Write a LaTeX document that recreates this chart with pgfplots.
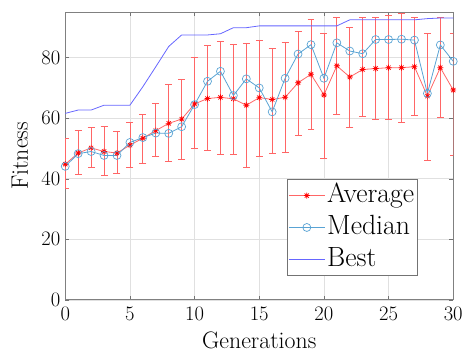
\documentclass[border=0pt]{standalone}
\usepackage{pgfplots}
\pgfplotsset{compat=1.18}
\usepackage{pgfplotstable}

\definecolor{avgred}{rgb}{1,0,0}
\definecolor{medblue}{rgb}{0,0.447,0.741}
\definecolor{bestblue}{rgb}{0,0,1}

% eight-spoke asterisk
\pgfdeclareplotmark{mstar}{%
  \pgfpathmoveto{\pgfqpoint{0pt}{\pgfplotmarksize}}%
  \pgfpathlineto{\pgfqpoint{0pt}{-\pgfplotmarksize}}%
  \pgfpathmoveto{\pgfqpoint{\pgfplotmarksize}{0pt}}%
  \pgfpathlineto{\pgfqpoint{-\pgfplotmarksize}{0pt}}%
  \pgfpathmoveto{\pgfqpoint{0.707\pgfplotmarksize}{0.707\pgfplotmarksize}}%
  \pgfpathlineto{\pgfqpoint{-0.707\pgfplotmarksize}{-0.707\pgfplotmarksize}}%
  \pgfpathmoveto{\pgfqpoint{-0.707\pgfplotmarksize}{0.707\pgfplotmarksize}}%
  \pgfpathlineto{\pgfqpoint{0.707\pgfplotmarksize}{-0.707\pgfplotmarksize}}%
  \pgfusepathqstroke
}

% generation, mean fitness, upper and lower spread
\pgfplotstableread{
x y ep em
0 44.8 8.6 8.1
1 48.5 7.4 7.1
2 50.2 6.8 6.6
3 49.0 8.4 7.9
4 48.5 7.2 6.8
5 51.1 7.5 7.5
6 53.4 7.9 8.4
7 55.9 9.0 8.6
8 58.3 12.8 12.5
9 59.7 13.1 13.4
10 64.7 15.3 14.8
11 66.5 17.5 17.0
12 66.9 18.6 18.7
13 66.4 17.9 18.2
14 64.3 20.5 20.7
15 66.8 19.0 19.3
16 66.2 17.0 17.8
17 66.9 18.3 18.1
18 71.7 17.1 17.4
19 74.5 18.2 18.3
20 67.7 20.2 21.0
21 77.3 16.1 16.0
22 73.6 16.5 16.7
23 76.1 17.3 15.6
24 76.4 17.0 16.7
25 76.7 17.2 17.0
26 76.7 18.0 18.0
27 77.0 16.4 16.1
28 67.3 20.6 21.4
29 76.7 16.7 16.4
30 69.3 18.6 21.6
}\avgtable

% generation, median fitness
\pgfplotstableread{
x y
0 44.1
1 48.3
2 49.0
3 47.7
4 47.7
5 52.0
6 53.6
7 55.1
8 55.0
9 57.2
10 64.5
11 72.2
12 75.5
13 67.5
14 73.0
15 70.0
16 62.1
17 73.2
18 81.2
19 84.3
20 73.2
21 84.9
22 82.2
23 81.3
24 86.0
25 86.0
26 86.1
27 85.8
28 68.2
29 84.2
30 78.8
}\medtable

% generation, best fitness
\pgfplotstableread{
x y
0 61.6
1 62.7
2 62.7
3 64.3
4 64.3
5 64.3
6 70.4
7 77.0
8 83.7
9 87.5
10 87.5
11 87.5
12 87.9
13 89.9
14 89.9
15 90.5
16 90.5
17 90.5
18 90.5
19 90.5
20 90.5
21 90.5
22 92.5
23 92.5
24 92.5
25 92.5
26 92.5
27 92.5
28 92.9
29 93.1
30 93.1
}\besttable

\begin{document}
\begin{tikzpicture}
\begin{axis}[
  scale only axis,
  width=389.5bp, height=288.7bp,
  xmin=0, xmax=30, ymin=0, ymax=95,
  xtick={0,5,...,30}, ytick={0,20,...,80},
  tick align=inside,
  major tick length=4bp,
  tick style={black!55, line width=0.5bp},
  axis line style={black!50, line width=0.8bp},
  grid=major,
  grid style={black!12, line width=0.6bp},
  ticklabel style={font=\fontsize{19.5}{22}\selectfont},
  xticklabel style={yshift=-4bp},
  yticklabel style={xshift=-1.5bp},
  xlabel={Generations},
  ylabel={Fitness},
  label style={font=\fontsize{24}{28}\selectfont},
  xlabel style={at={(axis description cs:0.5,-0.1697)}, anchor=base},
  ylabel style={at={(axis description cs:-0.0963,0.5)}, anchor=base, rotate=0},
  legend style={
    at={(0.572,0.419)}, anchor=north west,
    font=\fontsize{28}{32}\selectfont,
    draw=black!55, line width=0.6bp,
    inner sep=1bp, row sep=2bp,
    nodes={inner sep=2bp, text height=20bp, text depth=6bp},
  },
  legend cell align=left,
  legend image code/.code={%
    \draw[#1, mark repeat=2, mark phase=2]
      plot coordinates {(0bp,0bp) (18bp,0bp) (36bp,0bp)};%
  },
]
\addplot[
  color=avgred!60, line width=0.8bp,
  mark=mstar, mark size=3bp,
  mark options={draw=avgred, solid, line width=0.7bp},
  error bars/.cd,
    y dir=both, y explicit,
    error bar style={avgred!60, line width=0.8bp},
    error mark options={rotate=90, mark size=3.5bp, avgred!60, line width=0.8bp},
] table[x=x, y=y, y error plus=ep, y error minus=em] {\avgtable};
\addlegendentry{Average}

\addplot[
  color=medblue!65, line width=0.8bp,
  mark=o, mark size=4bp,
  mark options={draw=medblue!65, line width=0.7bp},
] table[x=x, y=y] {\medtable};
\addlegendentry{Median}

\addplot[color=bestblue!60, line width=0.8bp] table[x=x, y=y] {\besttable};
\addlegendentry{Best}
\end{axis}
\path (current axis.south west) ++(-65.5bp,-53bp) rectangle ++(466bp,354bp);
\end{tikzpicture}
\end{document}
